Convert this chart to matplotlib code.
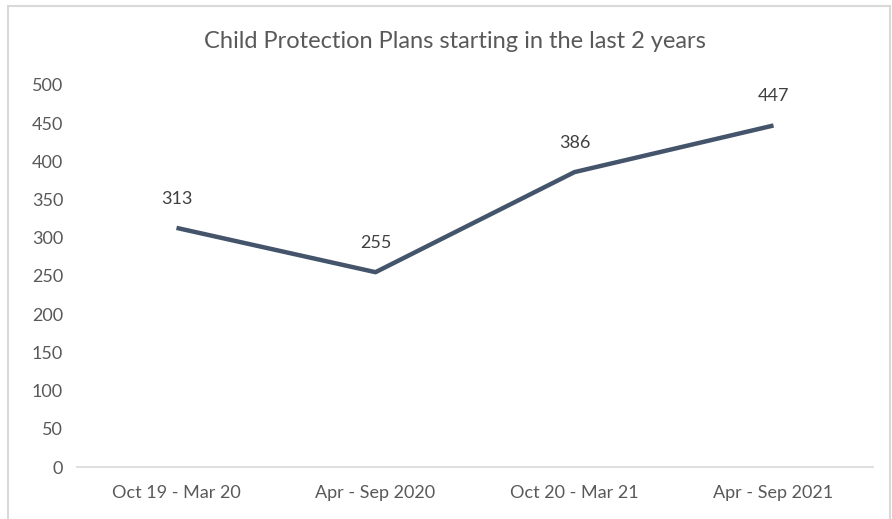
import matplotlib
matplotlib.use("Agg")
import matplotlib.pyplot as plt
from matplotlib.patches import Rectangle

periods = ["Oct 19 - Mar 20", "Apr - Sep 2020", "Oct 20 - Mar 21", "Apr - Sep 2021"]
plans_started = [313, 255, 386, 447]
y_ticks = [0, 50, 100, 150, 200, 250, 300, 350, 400, 450, 500]

plt.rcParams["font.family"] = ["Lato", "DejaVu Sans"]

W, H = 892, 519
fig = plt.figure(figsize=(W / 100, H / 100), dpi=100)
fig.patch.set_facecolor("white")

# chart-area border
fig.patches.append(Rectangle((8 / W, -0.05), (890 - 8) / W, 1.05 - 6 / H,
                             transform=fig.transFigure, fill=False,
                             edgecolor="#D9D9D9", linewidth=1.5))

ax = fig.add_axes([77 / W, 52 / H, 796 / W, 382 / H])
x = list(range(len(periods)))
ax.plot(x, plans_started, color="#44546A", linewidth=3.2, solid_capstyle="butt")

for xi, v in zip(x, plans_started):
    ax.annotate(str(v), (xi, v), xytext=(0, 21), textcoords="offset points",
                ha="center", va="center", fontsize=13, color="#404040")

ax.set_xlim(-0.5, len(periods) - 0.5)
ax.set_ylim(0, 500)
ax.set_yticks(y_ticks)
ax.set_xticks(x)
ax.set_xticklabels(periods)

for s in ["top", "right", "left"]:
    ax.spines[s].set_visible(False)
ax.spines["bottom"].set_color("#D9D9D9")
ax.spines["bottom"].set_linewidth(1.2)
ax.tick_params(axis="both", length=0, labelsize=13, labelcolor="#595959")
ax.tick_params(axis="y", pad=10)
ax.tick_params(axis="x", pad=13)

fig.text(455 / W, 1 - 42 / H, "Child Protection Plans starting in the last 2 years",
         ha="center", va="center", fontsize=17, color="#595959")

fig.savefig("out.png", dpi=100)
